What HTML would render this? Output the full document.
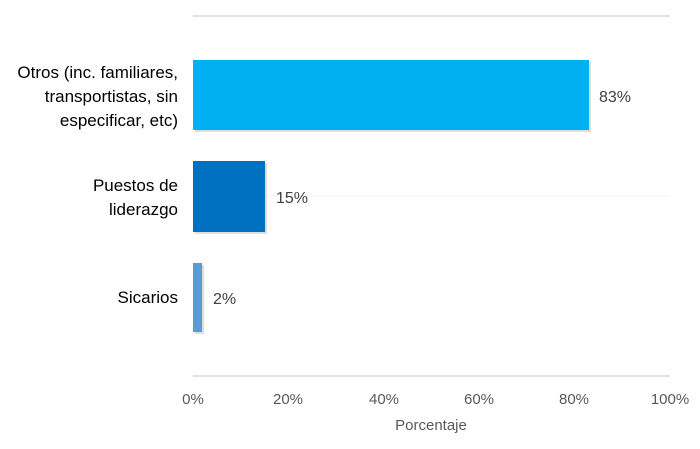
<!DOCTYPE html>
<html><head><meta charset="utf-8"><style>
body{margin:0;background:#fff;}
svg text{font-family:"Liberation Sans",sans-serif;}
</style></head><body>
<svg width="700" height="444" xmlns="http://www.w3.org/2000/svg">
<rect width="700" height="444" fill="#fff"/>
<line x1="193" y1="16" x2="670" y2="16" stroke="#d9d9d9" stroke-width="1.5"/>
<line x1="193" y1="196" x2="670" y2="196" stroke="#f0f0f0" stroke-width="1"/>
<line x1="193" y1="376" x2="670" y2="376" stroke="#d9d9d9" stroke-width="1.5"/>
<rect x="195" y="62" width="396" height="70" fill="#bbb" opacity="0.5"/>
<rect x="193" y="60" width="396" height="70" fill="#00B0F0"/>
<rect x="195" y="163" width="72" height="71" fill="#bbb" opacity="0.5"/>
<rect x="193" y="161" width="72" height="71" fill="#0070C0"/>
<rect x="195" y="265" width="9" height="69" fill="#bbb" opacity="0.5"/>
<rect x="193" y="263" width="9" height="69" fill="#5B9BD5"/>
<g font-size="16" fill="#404040">
<text x="599" y="102">83%</text>
<text x="276" y="203">15%</text>
<text x="213" y="304">2%</text>
</g>
<g font-size="17" fill="#000" text-anchor="end">
<text x="178" y="78">Otros (inc. familiares,</text>
<text x="178" y="102">transportistas, sin</text>
<text x="178" y="126">especificar, etc)</text>
<text x="178" y="191">Puestos de</text>
<text x="178" y="215">liderazgo</text>
<text x="178" y="303">Sicarios</text>
</g>
<g font-size="15" fill="#595959" text-anchor="middle">
<text x="193" y="404">0%</text>
<text x="288" y="404">20%</text>
<text x="384" y="404">40%</text>
<text x="479" y="404">60%</text>
<text x="574" y="404">80%</text>
<text x="670" y="404">100%</text>
<text x="431" y="430">Porcentaje</text>
</g>
</svg>
</body></html>
